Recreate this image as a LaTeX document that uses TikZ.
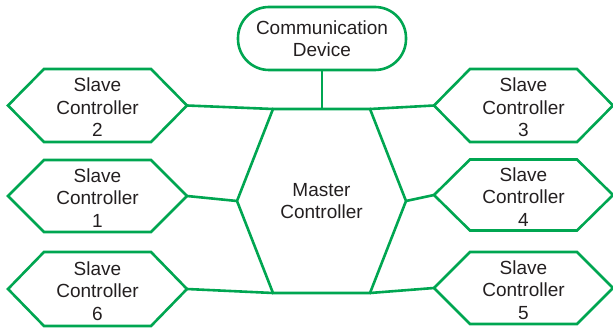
\documentclass[tikz,border=0pt]{standalone}
\usepackage{fontspec}
\setmainfont{Liberation Sans}
\usetikzlibrary{calc}
\definecolor{netgreen}{RGB}{0,166,81}
\definecolor{labelgray}{RGB}{35,31,32}

% #1 name, #2 x, #3 y, #4 half width, #5 half height, #6 inset of the pointed ends,
% #7 label, #8 vertical offset of the label
\newcommand\hexbox[8]{%
  \node[lbl,yshift=#8] (#1) at (#2,#3) {#7};
  \draw[edge] (#2-#4,#3) coordinate (#1-w)
    -- (#2-#4+#6,#3+#5) coordinate (#1-nw)
    -- (#2+#4-#6,#3+#5) coordinate (#1-ne)
    -- (#2+#4,#3) coordinate (#1-e)
    -- (#2+#4-#6,#3-#5) coordinate (#1-se)
    -- (#2-#4+#6,#3-#5) coordinate (#1-sw)
    -- cycle;
}

\begin{document}
\begin{tikzpicture}[x=1pt,y=1pt,
  edge/.style={draw=netgreen,line width=2.6pt,line join=miter},
  lbl/.style={align=center,text=labelgray,font=\fontsize{19}{22.5}\selectfont,inner sep=0pt},
  device/.style={lbl,draw=netgreen,line width=2.6pt,rounded corners=31pt,
    minimum width=168pt,minimum height=63pt}]
\useasboundingbox (0,0) rectangle (613,-331);

% central controller
\hexbox{m}{321.5}{-201}{84.5}{92}{36}{Master\\Controller}{0pt}

% controllers on the left
\hexbox{s2}{97.5}{-105.5}{89.5}{36.5}{36}{Slave\\Controller\\2}{-2pt}
\hexbox{s1}{97.5}{-196}{89.5}{36}{36}{Slave\\Controller\\1}{-2pt}
\hexbox{s6}{97.5}{-289}{89.5}{37}{36}{Slave\\Controller\\6}{-2pt}

% controllers on the right
\hexbox{s3}{523.5}{-105.5}{89.5}{36.5}{36}{Slave\\Controller\\3}{-2pt}
\hexbox{s4}{523.5}{-195}{89.5}{35.5}{36}{Slave\\Controller\\4}{-2pt}
\hexbox{s5}{523.5}{-288}{89.5}{36}{36}{Slave\\Controller\\5}{-2pt}

% communication device on top
\node[device] (comm) at (322,-38.5) {Communication\\Device};

% links
\draw[edge] (comm.south) -- (comm.south |- m-nw);
\draw[edge] (s2-e) -- (m-nw);
\draw[edge] (m-ne) -- (s3-w);
\draw[edge] (s1-e) -- (m-w);
\draw[edge] (m-e) -- (s4-w);
\draw[edge] (s6-e) -- (m-sw);
\draw[edge] (m-se) -- (s5-w);
\end{tikzpicture}
\end{document}
